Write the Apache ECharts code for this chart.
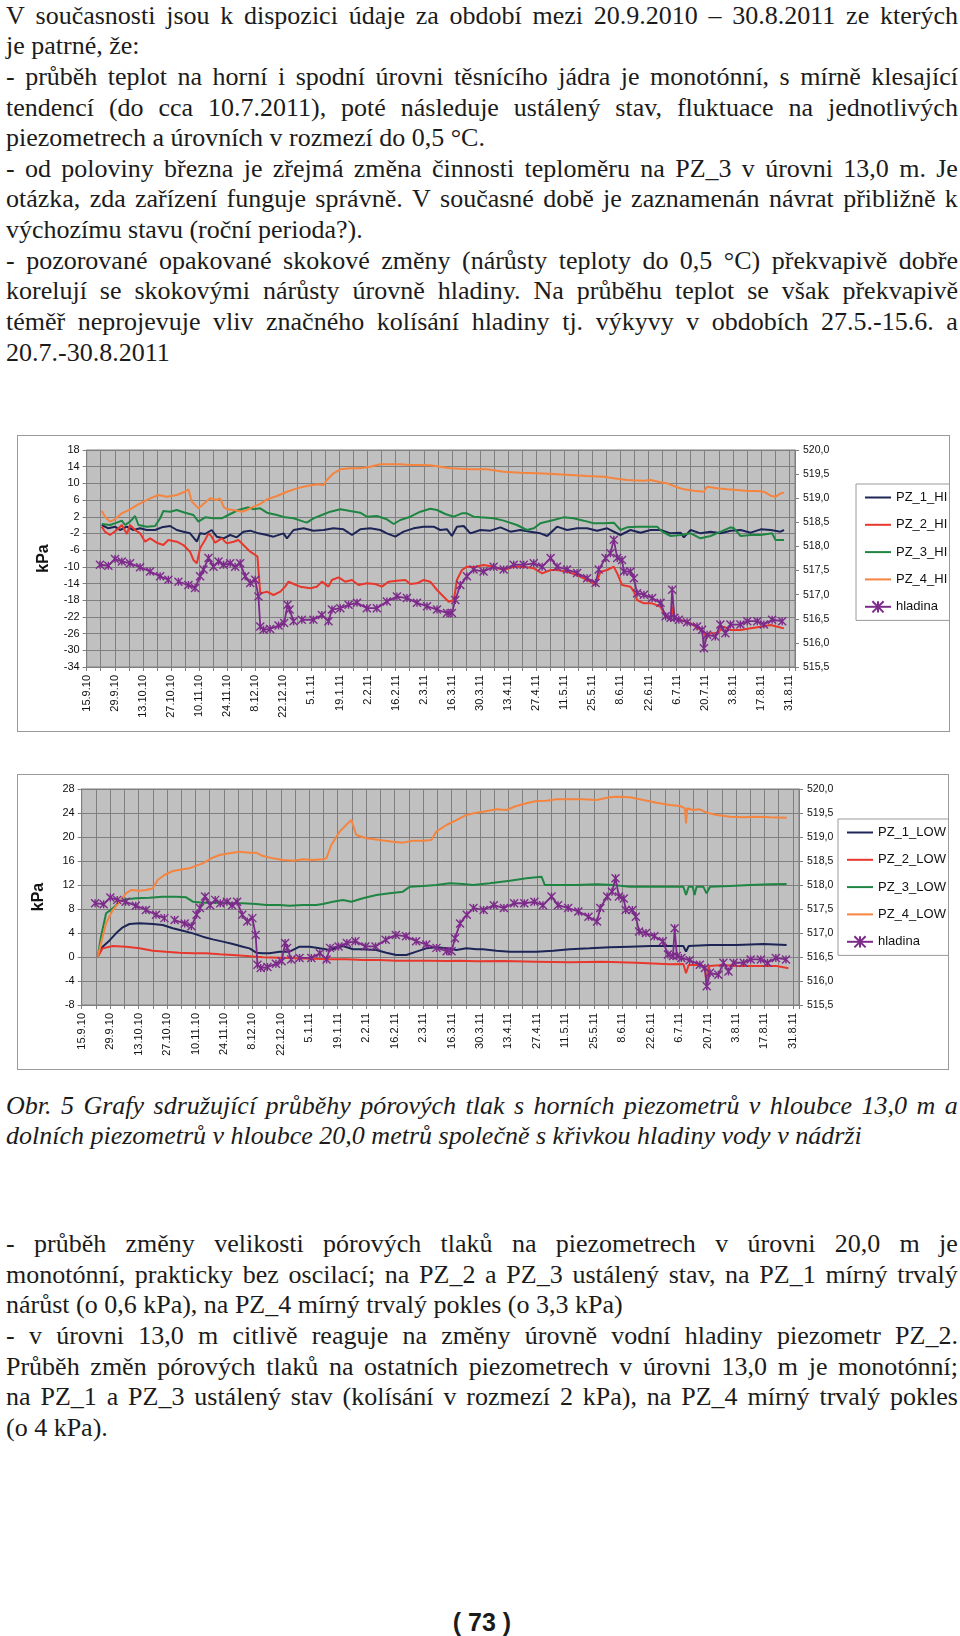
<!DOCTYPE html>
<html lang="cs">
<head>
<meta charset="utf-8">
<title>Pórové tlaky a hladina</title>
<script src="https://cdn.jsdelivr.net/npm/echarts@6.0.0/dist/echarts.min.js"></script>
<style>
  html, body { margin: 0; padding: 0; background: #fff; }
  #page { position: relative; width: 960px; height: 1636px; overflow: hidden; color: #1b1b1b;
          font-family: "Liberation Serif", "Times New Roman", serif; }
  .ln { position: absolute; left: 6px; width: 952px; height: 30px; line-height: 30px;
        font-size: 26px; white-space: nowrap; }
  .ln.j { display: flex; justify-content: space-between; }
  .ln.i { font-style: italic; }
  .box { position: absolute; border: 1px solid #9a9a9a; box-sizing: border-box; background: #fff; }
  #pageNo { position: absolute; left: 380px; width: 204px; top: 1608px; line-height: 30px; text-align: center;
            font: bold 25px "Liberation Sans", Arial, sans-serif; }
</style>
</head>
<body>
<div id="page">
  <div class="box" id="chartHi" style="left:17px; top:435px; width:933px; height:297px;"></div>
  <div class="box" id="chartLow" style="left:17px; top:774px; width:932px; height:296px;"></div>
  <div id="pageNo">( 73 )</div>
</div>
<script>
// texty stránky: [řádek, zarovnat do bloku]
const topLines = [
  ['V současnosti jsou k dispozici údaje za období mezi 20.9.2010 – 30.8.2011 ze kterých', true],
  ['je patrné, že:', false],
  ['- průběh teplot na horní i spodní úrovni těsnícího jádra je monotónní, s mírně klesající', true],
  ['tendencí (do cca 10.7.2011), poté následuje ustálený stav, fluktuace na jednotlivých', true],
  ['piezometrech a úrovních v rozmezí do 0,5 °C.', false],
  ['- od poloviny března je zřejmá změna činnosti teploměru na PZ_3 v úrovni 13,0 m. Je', true],
  ['otázka, zda zařízení funguje správně. V současné době je zaznamenán návrat přibližně k', true],
  ['výchozímu stavu (roční perioda?).', false],
  ['- pozorované opakované skokové změny (nárůsty teploty do 0,5 °C) překvapivě dobře', true],
  ['korelují se skokovými nárůsty úrovně hladiny. Na průběhu teplot se však překvapivě', true],
  ['téměř neprojevuje vliv značného kolísání hladiny tj. výkyvy v obdobích 27.5.-15.6. a', true],
  ['20.7.-30.8.2011', false]
];
const captionLines = [
  ['Obr. 5 Grafy sdružující průběhy pórových tlak s horních piezometrů v hloubce 13,0 m a', true],
  ['dolních piezometrů v hloubce 20,0 metrů společně s křivkou hladiny vody v nádrži', false]
];
const bottomLines = [
  ['- průběh změny velikosti pórových tlaků na piezometrech v úrovni 20,0 m je', true],
  ['monotónní, prakticky bez oscilací; na PZ_2 a PZ_3 ustálený stav, na PZ_1 mírný trvalý', true],
  ['nárůst (o 0,6 kPa), na PZ_4 mírný trvalý pokles (o 3,3 kPa)', false],
  ['- v úrovni 13,0 m citlivě reaguje na změny úrovně vodní hladiny piezometr PZ_2.', true],
  ['Průběh změn pórových tlaků na ostatních piezometrech v úrovni 13,0 m je monotónní;', true],
  ['na PZ_1 a PZ_3 ustálený stav (kolísání v rozmezí 2 kPa), na PZ_4 mírný trvalý pokles', true],
  ['(o 4 kPa).', false]
];

// popisky osy x (každých 14 dní od 15.9.2010), osa x = dny od 15.9.2010
const dateTicks = ['15.9.10','29.9.10','13.10.10','27.10.10','10.11.10','24.11.10','8.12.10','22.12.10',
  '5.1.11','19.1.11','2.2.11','16.2.11','2.3.11','16.3.11','30.3.11','13.4.11','27.4.11','11.5.11',
  '25.5.11','8.6.11','22.6.11','6.7.11','20.7.11','3.8.11','17.8.11','31.8.11'];
const hiTicks = [-34, -30, -26, -22, -18, -14, -10, -6, -2, 2, 6, 10, 14, 18];

// hladina vody v nádrži [den, m n.m.]
const hladina = [[6.6,517.62],[10.8,517.60],[14.1,517.74],[17.5,517.69],[21.6,517.65],[26.6,517.57],[31.6,517.48],
  [36.6,517.38],[40.7,517.31],[43,null],[45.7,517.27],[50.7,517.20],[54,517.14],[56.5,517.38],[58.2,517.52],
  [60.7,517.76],[63.2,517.58],[65.7,517.69],[68.2,517.62],[71.5,517.65],[74,517.58],[76.5,517.65],[79,517.38],
  [81.5,517.24],[84,517.31],[85.6,516.96],[86.5,516.34],[88.1,516.27],[91.4,516.29],[95.6,516.36],[98.4,516.41],
  [100.1,516.79],[101.1,516.69],[103.1,516.45],[105,null],[107.2,516.48],[113,516.48],[117.2,516.58],[120.5,516.45],
  [122.2,516.69],[126.4,516.72],[130.5,516.79],[134.7,516.83],[139.6,516.72],[144.6,516.72],[149.6,516.86],
  [154.6,516.96],[159.6,516.93],[164.6,516.83],[169.6,516.76],[174.6,516.69],[179.6,516.62],[182,516.62],
  [183.7,516.89],[186.2,517.20],[189.5,517.38],[192.8,517.52],[197.8,517.48],[202.8,517.58],[207.8,517.52],
  [212.8,517.62],[217.8,517.62],[222.8,517.65],[227,517.58],[231.2,517.76],[234.4,517.58],[239.4,517.52],
  [244.4,517.45],[249.4,517.34],[253.6,517.24],[255.2,517.52],[258.6,517.76],[261,517.86],[262.7,518.14],
  [264.4,517.76],[266.8,517.72],[267.7,517.48],[271,517.48],[272.7,517.34],[274.3,517.03],[277.7,517.00],
  [281.8,516.93],[286,516.83],[288.5,516.55],[291,516.52],[291.8,517.10],[292.9,516.52],[295.1,516.48],
  [299.2,516.43],[304.2,516.34],[306.7,516.27],[307.6,515.89],[309.2,516.17],[313.3,516.13],[315.8,516.38],
  [318.3,516.20],[320.8,516.38],[325.8,516.38],[329.2,516.45],[334.2,516.45],[337.5,516.38],[341.6,516.48],
  [346.6,516.45]];

// horní piezometry, 13,0 m [den, kPa]
const pz1Hi = [[7.5,0.03],[10.8,-0.77],[14.1,-0.37],[16.6,-1.17],[20,-0.37],[23.3,-1.17],[26.6,-0.77],[29.9,-1.17],
  [34.1,-1.17],[37.4,-0.53],[41.6,-0.21],[44.9,-1.17],[48.2,-1.57],[51.5,-1.97],[54.9,-3.97],[56.5,-1.97],[59,-2.13],
  [62.3,-1.17],[64.8,-2.77],[68.2,-3.17],[71.5,-2.37],[74.8,-2.93],[78.1,-1.57],[81.5,-1.33],[85.6,-1.97],[89.8,-2.37],
  [93.1,-2.77],[98.1,-1.97],[99.8,-3.17],[103.1,-1.17],[108.1,-0.77],[113,-1.33],[118,-1.17],[123,-0.77],[128,-1.01],
  [132.2,-2.37],[136.3,-1.01],[141.3,-0.77],[146.3,-1.17],[149.6,-1.97],[153.8,-2.77],[157.9,-1.57],[162.9,-0.77],
  [167.9,-0.37],[172.9,-0.37],[176.2,-1.17],[179.6,-1.01],[182,-2.61],[184.5,-0.37],[187.9,-0.21],[191.2,-1.97],
  [196.2,-1.17],[201.2,-1.33],[206.2,-0.53],[211.2,-1.57],[216.1,-1.17],[221.1,-1.57],[226.1,-1.97],[229.5,-2.61],
  [234.4,-0.37],[239.4,-1.17],[244.4,-0.77],[249.4,-0.77],[254.4,-1.33],[259.4,-0.77],[266,-2.37],[271,-1.17],
  [276,-1.81],[281,-1.17],[286,-1.17],[291,-1.97],[296,-1.81],[297.6,-2.93],[301,-1.17],[305.9,-1.97],[310.9,-1.57],
  [316,-1.97],[320.9,-1.33],[325.9,-1.17],[330.9,-1.81],[335.9,-1.01],[340.9,-1.17],[345.8,-1.57],[347.5,-1.17]];
const pz2Hi = [[7.5,-0.37],[9.1,-1.57],[11.6,-2.37],[15,-1.17],[17.5,0.03],[20,-2.13],[21.6,0.03],[24.1,-1.17],
  [26.6,-1.97],[29.1,-3.97],[31.6,-3.17],[34.9,-4.21],[38.2,-4.77],[40.7,-3.57],[44.9,-3.97],[48.2,-4.77],[51.5,-6.37],
  [53.2,-8.36],[54.9,-9.16],[56.5,-5.57],[59,-3.57],[60.7,-1.97],[62.3,-2.77],[64,-4.21],[67.3,-3.17],[69.8,-4.37],
  [73.2,-3.97],[75.6,-3.57],[78.1,-4.77],[81.5,-6.37],[84,-7.16],[85.1,-7.56],[86.5,-16.35],[89.8,-15.95],[93.1,-16.75],
  [96.5,-15.95],[98.9,-14.75],[100.6,-13.55],[103.1,-14.11],[106.4,-14.75],[111.4,-15.15],[114.7,-14.75],[117.2,-13.55],
  [120.5,-14.75],[122.2,-13.15],[125.5,-12.52],[128.8,-13.55],[132.2,-13.15],[135.5,-14.35],[139.6,-13.95],
  [143.8,-14.11],[147.1,-14.75],[150.5,-13.55],[154.6,-13.31],[158.8,-13.15],[161.3,-14.11],[164.6,-13.95],
  [167.9,-13.15],[171.2,-13.55],[174.6,-15.55],[177.9,-17.15],[180.4,-18.35],[183,-17.95],[184.5,-13.15],
  [187,-10.76],[189.5,-9.96],[192.8,-10.12],[197.8,-9.56],[202.8,-9.96],[207.8,-10.76],[212.8,-9.96],[217.8,-9.96],
  [222.8,-10.36],[227,-11.56],[231.2,-10.76],[234.4,-10.76],[239.4,-11.16],[244.4,-11.96],[249.4,-13.15],
  [253.6,-14.35],[256.1,-11.16],[259.4,-10.76],[262.7,-9.96],[264.4,-11.56],[266.8,-14.35],[271,-14.75],
  [272.7,-15.95],[274.3,-17.95],[277.7,-18.75],[281.8,-18.75],[286,-19.55],[288.5,-21.94],[291,-22.34],
  [292.1,-19.55],[292.9,-22.58],[296,-22.74],[301,-23.54],[305.9,-25.14],[308.4,-26.33],[310.9,-25.94],
  [314.2,-25.94],[317.5,-24.34],[320.9,-25.14],[325.9,-25.14],[330.9,-24.74],[335.9,-24.34],[340.9,-23.94],
  [344.2,-24.34],[347.5,-24.74]];
const pz3Hi = [[7.5,0.27],[11.6,0.03],[15,0.59],[17.5,1.07],[19.1,0.03],[21.6,0.83],[24.1,2.18],[25.8,0.03],
  [29.9,-0.37],[34.1,-0.21],[36.6,1.63],[38.2,3.38],[41.6,3.22],[44.9,3.62],[49,2.98],[53.2,2.42],[55.7,0.83],
  [59,1.86],[63.2,1.63],[67.3,1.63],[71.5,2.66],[75.6,3.62],[80.6,4.26],[83.1,3.78],[86.5,4.02],[89.8,2.98],
  [94.8,2.42],[98.9,1.86],[103.1,1.63],[108.1,0.83],[109.7,0.59],[113,1.63],[117.2,2.42],[121.4,3.22],[126.4,3.78],
  [131.3,3.38],[136.3,2.98],[139.6,2.02],[144.6,2.18],[149.6,1.39],[153,0.27],[156.3,1.23],[161.3,2.02],[166.3,3.22],
  [171.2,3.94],[174.6,3.62],[178.7,2.66],[183,2.02],[187,2.82],[189.5,2.82],[192.8,2.02],[196.2,1.86],[202.8,1.63],
  [207.8,1.07],[214.4,0.03],[219.4,-1.17],[222.8,-0.77],[226.1,0.43],[232.7,1.23],[237.6,1.86],[242.6,1.63],
  [247.7,1.07],[252.7,0.43],[257.7,0.43],[262.7,0.59],[266,-1.17],[269.3,-0.53],[274.3,-0.37],[279.3,-0.37],
  [284.3,-0.37],[286.8,-1.57],[291,-2.61],[296,-2.37],[301,-1.97],[305.9,-3.17],[310.9,-2.61],[316,-1.57],
  [320.9,-0.53],[322.6,-0.77],[325.9,-2.61],[330.9,-2.37],[335.9,-2.37],[341.6,-1.97],[343.3,-3.57],[347.5,-3.57]];
const pz4Hi = [[7.5,3.46],[9.1,2.02],[11.6,0.83],[14.1,1.39],[17.5,2.82],[21.6,3.78],[26.6,5.22],[31.6,6.42],
  [35.7,7.22],[39.9,6.82],[44.9,7.22],[49,8.0],[50.7,8.57],[52.4,5.62],[55.7,4.02],[58.2,5.06],[61.5,6.42],[64.8,6.02],
  [66.5,6.42],[68.2,4.42],[69.8,3.78],[73.2,3.62],[77.3,3.22],[79.8,3.62],[82.3,4.26],[86.5,5.06],[89.8,6.18],
  [94.8,6.98],[99.8,8.0],[104.7,8.81],[109.7,9.37],[114.7,9.77],[118,9.61],[119.7,10.81],[123,12.41],[126.4,13.37],
  [131.3,13.61],[136.3,13.61],[141.3,14.0],[146.3,14.57],[151.3,14.57],[156.3,14.57],[161.3,14.41],[166.3,14.41],
  [171.2,14.33],[176.2,14.0],[181.2,13.61],[186.2,13.53],[191.2,13.37],[199.5,13.37],[207.8,12.81],[216.1,12.57],
  [224.4,12.41],[232.7,12.25],[241,12.01],[249.4,11.77],[257.7,11.61],[262.7,11.21],[269.3,10.81],[277.7,10.65],
  [281,10.81],[286,10.25],[289.3,10.01],[293.4,9.21],[297.6,8.57],[302.6,8.25],[307.6,8.0],[309.2,9.21],[314.2,8.81],
  [319.2,8.57],[324.2,8.41],[329.2,8.17],[334.2,8.17],[337.5,8.0],[340.9,7.06],[343.4,6.82],[345.8,7.61],[347.5,7.78]];

// dolní piezometry, 20,0 m [den, kPa]
const pz1Low = [[7.9,0.06],[10.3,1.72],[13.6,2.72],[16.9,3.94],[20.2,4.94],[23.5,5.5],[28.4,5.61],[35,5.5],[39.9,5.33],
  [44.8,4.78],[49.8,4.39],[54.7,3.94],[59.6,3.39],[64.5,2.94],[69.5,2.56],[74.4,2.17],[79.3,1.72],[82.6,1.44],
  [85.9,0.72],[89.2,0.61],[92.4,0.61],[97.4,0.89],[102.3,0.89],[107.2,1.72],[112.2,1.72],[117.1,1.44],[122,1.17],
  [128.6,1.83],[133.5,1.28],[138.4,1.28],[145,1.17],[149.9,0.72],[154.8,0.33],[159.8,0.33],[164.7,0.89],[169.6,1.44],
  [174.5,1.61],[179.5,1.44],[184.4,1.17],[189.3,1.44],[194.3,1.28],[197.5,1.28],[204.1,1.06],[210.7,0.89],[217.2,0.89],
  [223.8,0.89],[232,1.06],[240.2,1.28],[250,1.44],[259.9,1.61],[269.8,1.72],[279.6,1.83],[289.5,1.83],[296.1,1.83],
  [297.4,0.89],[298.7,1.83],[309.2,2.0],[322.3,2.0],[335.5,2.17],[346.9,2.0]];
const pz2Low = [[7.9,0.06],[10.3,1.44],[15.3,1.83],[21.8,1.72],[28.4,1.44],[35,1.06],[41.5,0.89],[48.1,0.72],
  [54.7,0.61],[61.2,0.61],[67.8,0.44],[74.4,0.33],[81,0.17],[89.2,-0.06],[97.4,-0.11],[105.6,-0.22],[113.8,-0.28],
  [122,-0.39],[130.2,-0.39],[138.4,-0.5],[146.6,-0.5],[154.8,-0.61],[163,-0.61],[171.3,-0.61],[179.5,-0.67],
  [186,-0.61],[194.3,-0.72],[207.4,-0.67],[223.8,-0.78],[240.2,-0.89],[256.6,-0.78],[273,-0.94],[289.5,-1.22],
  [296.1,-1.17],[297.4,-2.72],[298.7,-1.33],[304.2,-1.33],[306.7,-1.61],[307.5,-4.67],[308.8,-1.5],[315.7,-1.33],
  [322.3,-1.5],[332.2,-1.5],[342,-1.5],[347.8,-1.89]];
const pz3Low = [[7.9,0.06],[9.5,3.39],[12,7.28],[15.3,8.11],[18.6,9.22],[21.8,9.61],[26.8,9.78],[33.3,9.89],
  [39.9,10.06],[46.5,10.06],[51.4,9.94],[54.7,9.22],[59.6,9.06],[66.2,9.06],[72.7,8.94],[79.3,8.94],[85.9,8.83],
  [90.8,8.67],[97.4,8.67],[102.3,8.56],[108.9,8.67],[115.4,8.67],[118.7,8.83],[123.6,9.22],[128.6,9.5],[132.7,9.22],
  [138.4,9.78],[145,10.33],[151.6,10.61],[158.1,10.89],[161.4,11.72],[168,11.83],[174.5,12.0],[181.1,12.28],
  [187.7,12.17],[192.6,12.0],[200.8,12.28],[210.7,12.72],[218.9,13.11],[226.3,13.39],[227.9,12.0],[233.6,12.0],
  [243.5,12.0],[253.3,12.11],[261.5,12.0],[269.8,11.72],[279.6,11.72],[289.5,11.72],[296.1,11.72],[297.4,10.33],
  [298.7,11.72],[300.7,11.72],[301.6,10.33],[302.6,11.72],[305.9,11.72],[307.5,10.61],[309.2,11.72],[319,11.83],
  [328.9,12.0],[338.7,12.11],[346.9,12.17]];
const pz4Low = [[7.9,0.06],[9.5,2.28],[12,5.61],[15.3,7.83],[18.6,9.22],[21.8,10.61],[24.3,11.17],[28.4,11.06],
  [31.7,11.17],[35,11.44],[37.4,12.83],[40.7,13.67],[44.8,14.33],[49.8,14.61],[53,14.78],[56.3,15.22],[59.6,15.61],
  [63.7,16.44],[67.8,17.0],[72.7,17.28],[77.7,17.56],[82.6,17.39],[85.9,17.39],[89.2,16.83],[94.1,16.44],[99,16.17],
  [103.9,16.06],[108.9,16.28],[113.8,16.17],[118.7,16.28],[120.4,16.44],[122.8,18.67],[126.9,20.89],[131,22.28],
  [132.7,22.83],[135.1,20.33],[140.1,19.78],[146.6,19.5],[153.2,19.22],[158.1,19.06],[163,19.39],[168,19.39],
  [172.1,19.5],[174.5,20.89],[179.5,22.0],[184.4,22.83],[189.3,23.67],[194.3,24.06],[197.5,24.22],[204.1,24.61],
  [209,24.5],[213.9,25.17],[218.9,25.61],[223.8,26.0],[228.7,26.06],[233.6,26.28],[240.2,26.28],[246.8,26.28],
  [253.3,26.17],[259.9,26.61],[263.2,26.72],[269.8,26.61],[276.4,26.17],[282.9,25.72],[289.5,25.33],[294.4,25.17],
  [296.9,24.78],[297.4,22.28],[298,24.78],[301,24.5],[304.2,24.61],[307.5,24.06],[312.5,23.67],[319,23.39],
  [325.6,23.28],[332.2,23.39],[338.7,23.28],[346.9,23.22]];

// ---------- texty ----------
const page = document.getElementById('page');
function putLines(lines, firstCenter, step, italic) {
  lines.forEach(([text, justify], i) => {
    const div = document.createElement('div');
    div.className = 'ln' + (justify ? ' j' : '') + (italic ? ' i' : '');
    div.style.top = (firstCenter + i * step - 15) + 'px';
    if (justify) {
      text.split(' ').forEach(w => {
        const s = document.createElement('span');
        s.textContent = w;
        div.appendChild(s);
      });
    } else {
      div.textContent = text;
    }
    page.appendChild(div);
  });
}
putLines(topLines, 15.7, 30.62, false);
putLines(captionLines, 1106, 29.5, true);
putLines(bottomLines, 1244, 30.67, false);

// ---------- grafy ----------
const FONT = '"Liberation Sans", Arial, sans-serif';
const colors = { pz1: '#1c2556', pz2: '#e8372c', pz3: '#1f8543', pz4: '#f5843f', hl: '#7d2b8b' };
const lineIcon = 'path://M0,0L26,0L26,2L0,2Z';
const starSymbol = 'path://M0,0L10,10M10,0L0,10M5,0L5,10';

function pzSeries(name, data, color) {
  return {
    name, type: 'line', data, yAxisIndex: 0, symbol: 'none', smooth: false,
    lineStyle: { color, width: 2 }, itemStyle: { color, borderWidth: 0 }
  };
}
function hlSeries() {
  return {
    name: 'hladina', type: 'line', data: hladina, yAxisIndex: 1, connectNulls: false,
    symbol: starSymbol, symbolSize: 8, showAllSymbol: true,
    lineStyle: { color: colors.hl, width: 1.8 },
    itemStyle: { color: colors.hl, borderColor: colors.hl, borderWidth: 1.4 }
  };
}

function buildChart(el, cfg) {
  const chart = echarts.init(el, null, { renderer: 'canvas' });
  const gridColor = '#7f7f7f';
  const leftAxis = {
    type: 'value', position: 'left', min: cfg.min, max: cfg.max, interval: 4,
    name: 'kPa', nameLocation: 'middle', nameRotate: 90, nameGap: 35,
    nameTextStyle: { fontFamily: FONT, fontSize: 16, fontWeight: 'bold', color: '#111' },
    axisLine: { show: true, lineStyle: { color: gridColor } },
    axisTick: { show: true, length: 4, lineStyle: { color: gridColor } },
    axisLabel: { fontFamily: FONT, fontSize: 11, color: '#111', margin: 7 },
    splitLine: { show: true, lineStyle: { color: gridColor, width: 1 } }
  };
  if (cfg.ticks) {
    leftAxis.axisLabel.customValues = cfg.ticks;
    leftAxis.axisTick.customValues = cfg.ticks;
  }
  chart.setOption({
    animation: false,
    textStyle: { fontFamily: FONT },
    grid: {
      left: cfg.grid[0], top: cfg.grid[1], right: cfg.grid[2], bottom: cfg.grid[3],
      show: true, backgroundColor: '#c0c0c0', borderColor: gridColor, borderWidth: 1
    },
    legend: {
      orient: 'vertical', left: cfg.legend[0], top: cfg.legend[1],
      itemWidth: 26, itemHeight: 14, itemGap: 14.3, padding: [7, 14, 7, 8],
      backgroundColor: '#fff', borderColor: '#9a9a9a', borderWidth: 1,
      textStyle: { fontFamily: FONT, fontSize: 13, color: '#111' },
      data: cfg.names.slice(0, 4).map(n => ({ name: n, icon: lineIcon })).concat(['hladina'])
    },
    xAxis: {
      type: 'value', min: 0, max: 353, interval: 7,
      axisLine: { onZero: false, lineStyle: { color: gridColor } },
      axisTick: { length: 4, lineStyle: { color: gridColor } },
      axisLabel: {
        rotate: 90, fontFamily: FONT, fontSize: 11, color: '#111', margin: 8,
        formatter: v => (v % 14 === 0 && dateTicks[v / 14]) ? dateTicks[v / 14] : ''
      },
      splitLine: { show: true, lineStyle: { color: gridColor, width: 1 } }
    },
    yAxis: [
      leftAxis,
      {
        type: 'value', position: 'right', min: 515.5, max: 520, interval: 0.5,
        axisLine: { show: true, lineStyle: { color: gridColor } },
        axisTick: { show: true, length: 4, lineStyle: { color: gridColor } },
        axisLabel: { fontFamily: FONT, fontSize: 10.5, color: '#111', margin: 8,
                     formatter: v => v.toFixed(1).replace('.', ',') },
        splitLine: { show: false }
      }
    ],
    series: [
      pzSeries(cfg.names[0], cfg.data[0], colors.pz1),
      pzSeries(cfg.names[1], cfg.data[1], colors.pz2),
      pzSeries(cfg.names[2], cfg.data[2], colors.pz3),
      pzSeries(cfg.names[3], cfg.data[3], colors.pz4),
      hlSeries()
    ]
  });
  return chart;
}

buildChart(document.getElementById('chartHi'), {
  min: -34, max: 18, ticks: hiTicks,
  grid: [68.7, 14, 154, 64],
  legend: [838, 48],
  names: ['PZ_1_HI', 'PZ_2_HI', 'PZ_3_HI', 'PZ_4_HI'],
  data: [pz1Hi, pz2Hi, pz3Hi, pz4Hi]
});
buildChart(document.getElementById('chartLow'), {
  min: -8, max: 28,
  grid: [63.7, 14, 149, 64],
  legend: [820, 44],
  names: ['PZ_1_LOW', 'PZ_2_LOW', 'PZ_3_LOW', 'PZ_4_LOW'],
  data: [pz1Low, pz2Low, pz3Low, pz4Low]
});
</script>
</body>
</html>
